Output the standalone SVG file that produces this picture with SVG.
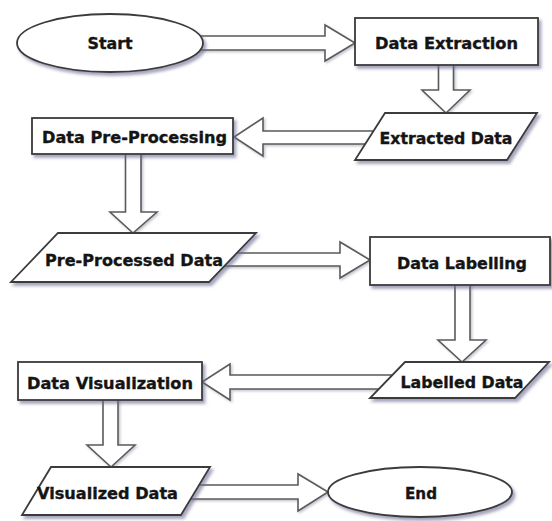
<svg xmlns="http://www.w3.org/2000/svg" width="552" height="521" viewBox="0 0 552 521">
<defs>
<filter id="sh" x="-10%" y="-20%" width="130%" height="160%">
<feDropShadow dx="2.5" dy="3" stdDeviation="1.8" flood-color="#6a6a90" flood-opacity="0.6"/>
</filter>
<filter id="ash" x="-10%" y="-20%" width="130%" height="160%">
<feDropShadow dx="1.5" dy="1.5" stdDeviation="1.2" flood-color="#8a8aa0" flood-opacity="0.5"/>
</filter>
</defs>
<style>
.n{fill:#fff;stroke:#3a3a3a;stroke-width:1.8;filter:url(#sh)}
.a{fill:#fff;stroke:#5a5a5a;stroke-width:1.6;stroke-linejoin:miter;filter:url(#ash)}
.t{font-family:"DejaVu Sans",Verdana,sans-serif;font-weight:bold;font-size:15.5px;fill:#141414;stroke:#141414;stroke-width:0.35;text-anchor:middle}
</style>
<rect width="552" height="521" fill="#fff"/>
<g id="connectors">
<polygon class="a" points="190,36 325,36 325,25 355,43 325,61 325,50 190,50"/>
<polygon class="a" points="438.5,60 453.5,60 453.5,90 470,90 446,113 422,90 438.5,90"/>
<polygon class="a" points="400,131 263,131 263,118 234,137 263,156 263,144 400,144"/>
<polygon class="a" points="125.5,150 141,150 141,212 157,212 133,233 110,212 125.5,212"/>
<polygon class="a" points="215,253 340,253 340,242 370,260 340,278 340,266 215,266"/>
<polygon class="a" points="455,280 470,280 470,340 486,340 462,362 438,340 455,340"/>
<polygon class="a" points="400,375 230,375 230,364 202,382 230,400 230,389 400,389"/>
<polygon class="a" points="103,395 118,395 118,445 135,445 111,467 87,445 103,445"/>
<polygon class="a" points="190,485 298,485 298,474 328,492 298,511 298,499 190,499"/>
</g>
<g id="start">
<ellipse class="n" cx="110" cy="43" rx="93" ry="29"/>
<text class="t" x="110" y="48.5" textLength="45" lengthAdjust="spacingAndGlyphs">Start</text>
</g>
<g id="data-extraction">
<rect class="n" x="355" y="18" width="183" height="47"/>
<text class="t" x="446.5" y="48.5" textLength="143" lengthAdjust="spacingAndGlyphs">Data Extraction</text>
</g>
<g id="extracted-data">
<polygon class="n" points="385,113 537,113 507,160 355,160"/>
<text class="t" x="446" y="143.5" textLength="133" lengthAdjust="spacingAndGlyphs">Extracted Data</text>
</g>
<g id="data-pre-processing">
<rect class="n" x="32" y="118" width="201" height="36"/>
<text class="t" x="134.5" y="143" textLength="185" lengthAdjust="spacingAndGlyphs">Data Pre-Processing</text>
</g>
<g id="pre-processed-data">
<polygon class="n" points="58,233 256,233 209,282 11,282"/>
<text class="t" x="134" y="265.5" textLength="178" lengthAdjust="spacingAndGlyphs">Pre-Processed Data</text>
</g>
<g id="data-labelling">
<rect class="n" x="370" y="237" width="180" height="48"/>
<text class="t" x="462" y="268.5" textLength="130" lengthAdjust="spacingAndGlyphs">Data Labelling</text>
</g>
<g id="labelled-data">
<polygon class="n" points="405,362 549,362 515,398 370,398"/>
<text class="t" x="462" y="387.5" textLength="123" lengthAdjust="spacingAndGlyphs">Labelled Data</text>
</g>
<g id="data-visualization">
<rect class="n" x="18" y="362" width="184" height="38"/>
<text class="t" x="110" y="388.5" textLength="166" lengthAdjust="spacingAndGlyphs">Data Visualization</text>
</g>
<g id="visualized-data">
<polygon class="n" points="51,467 210,467 181,515 22,515"/>
<text class="t" x="107.5" y="498.5" textLength="141" lengthAdjust="spacingAndGlyphs">Visualized Data</text>
</g>
<g id="end">
<ellipse class="n" cx="420" cy="492" rx="92" ry="25"/>
<text class="t" x="421" y="498.5" textLength="32" lengthAdjust="spacingAndGlyphs">End</text>
</g>
</svg>
